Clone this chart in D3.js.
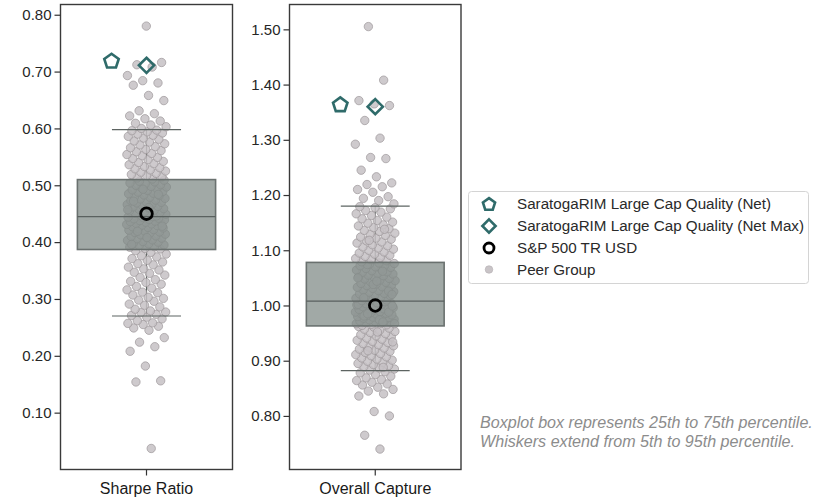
<!DOCTYPE html>
<html>
<head>
<meta charset="utf-8">
<script src="https://cdn.jsdelivr.net/npm/d3@7"></script>
<style>
  html, body { margin: 0; padding: 0; background: #ffffff; }
  svg { display: block; font-family: "Liberation Sans", Arial, sans-serif; }
</style>
</head>
<body>
<svg id="chart" width="817" height="499"></svg>
<script>
// ---------------- DATA ----------------
const categories = ["Sharpe Ratio", "Overall Capture"];
const yDomains = [[0.0, 0.818], [0.703, 1.545]];
const tickValues = [
  [0.10, 0.20, 0.30, 0.40, 0.50, 0.60, 0.70, 0.80],
  [0.80, 0.90, 1.00, 1.10, 1.20, 1.30, 1.40, 1.50]
];
// box stats: [p5, p25, median, p75, p95]
const boxStats = [
  [0.270, 0.387, 0.445, 0.510, 0.598],
  [0.882, 0.963, 1.008, 1.078, 1.180]
];
const fundNet = [0.718, 1.363];
const fundNetMax = [0.711, 1.360];
const benchmark = [0.450, 1.000];
const legendLabels = [
  "SaratogaRIM Large Cap Quality (Net)",
  "SaratogaRIM Large Cap Quality (Net Max)",
  "S&P 500 TR USD",
  "Peer Group"
];
const noteLines = [
  "Boxplot box represents 25th to 75th percentile.",
  "Whiskers extend from 5th to 95th percentile."
];
const peerSharpe = [
  0.037, 0.154, 0.156, 0.182, 0.208, 0.216, 0.224, 0.232, 0.245, 0.249, 0.252, 0.255, 0.257, 0.258, 0.262, 0.265, 0.268,
  0.271, 0.273, 0.276, 0.277, 0.279, 0.282, 0.286, 0.289, 0.291, 0.296, 0.298, 0.301, 0.303, 0.307, 0.311, 0.312, 0.316, 0.319, 0.322, 0.326,
  0.329, 0.331, 0.334, 0.338, 0.342, 0.345, 0.347, 0.351, 0.353, 0.356, 0.36, 0.362, 0.365, 0.368, 0.371, 0.374, 0.376, 0.379, 0.382, 0.385,
  0.388, 0.389, 0.391, 0.392, 0.394, 0.395, 0.397, 0.398, 0.4, 0.401, 0.403, 0.404, 0.406, 0.407, 0.409, 0.41, 0.411, 0.413, 0.414, 0.416,
  0.417, 0.418, 0.42, 0.421, 0.422, 0.424, 0.425, 0.426, 0.427, 0.429, 0.43, 0.431, 0.432, 0.433, 0.434, 0.435, 0.436, 0.437, 0.438, 0.439,
  0.44, 0.441, 0.442, 0.443, 0.444, 0.445, 0.419, 0.428, 0.408, 0.396,
  0.446, 0.447, 0.449, 0.45, 0.451, 0.452, 0.454, 0.455, 0.456, 0.458, 0.459, 0.46, 0.462, 0.463, 0.464, 0.466, 0.467, 0.469, 0.47, 0.471,
  0.473, 0.474, 0.476, 0.477, 0.479, 0.48, 0.482, 0.483, 0.485, 0.486, 0.488, 0.489, 0.491, 0.492, 0.494, 0.495, 0.497, 0.498, 0.5, 0.501,
  0.503, 0.504, 0.506, 0.507, 0.509, 0.461, 0.472, 0.484, 0.493, 0.457,
  0.511, 0.513, 0.515, 0.517, 0.519, 0.521, 0.523, 0.525, 0.527, 0.529, 0.531, 0.533, 0.536, 0.538, 0.54, 0.542, 0.545, 0.547, 0.549, 0.552,
  0.554, 0.556, 0.559, 0.561, 0.563, 0.566, 0.568, 0.571, 0.573, 0.576, 0.578, 0.581, 0.583, 0.586, 0.588, 0.59, 0.592, 0.594, 0.596, 0.597,
  0.6, 0.603, 0.606, 0.609, 0.613, 0.617, 0.622, 0.626, 0.631, 0.649, 0.658, 0.676, 0.68, 0.684, 0.693, 0.708, 0.712, 0.716, 0.78
];
const peerCapture = [
  0.74, 0.765, 0.8, 0.808, 0.836, 0.84, 0.845, 0.848, 0.852, 0.856, 0.858, 0.861, 0.864, 0.866, 0.869, 0.872, 0.875, 0.878, 0.88,
  0.883, 0.885, 0.887, 0.889, 0.891, 0.893, 0.895, 0.897, 0.899, 0.901, 0.903, 0.905, 0.907, 0.909, 0.911, 0.913, 0.915, 0.917, 0.919, 0.921,
  0.923, 0.925, 0.927, 0.929, 0.931, 0.933, 0.935, 0.937, 0.939, 0.941, 0.943, 0.945, 0.947, 0.949, 0.951, 0.953, 0.955, 0.957, 0.959, 0.961,
  0.962, 0.888, 0.918, 0.934, 0.952,
  0.964, 0.965, 0.966, 0.967, 0.968, 0.969, 0.97, 0.971, 0.972, 0.973, 0.974, 0.975, 0.976, 0.977, 0.978, 0.979, 0.98, 0.981, 0.982, 0.983,
  0.984, 0.985, 0.986, 0.987, 0.988, 0.989, 0.99, 0.991, 0.992, 0.993, 0.994, 0.995, 0.996, 0.997, 0.998, 0.999, 1.0, 1.001, 1.002, 1.003,
  1.004, 1.005, 1.006, 1.007, 1.008, 0.967, 0.974, 0.981, 0.988, 0.995, 1.002, 0.97, 0.985, 0.999, 1.005,
  1.009, 1.01, 1.012, 1.013, 1.015, 1.016, 1.018, 1.019, 1.021, 1.022, 1.024, 1.025, 1.027, 1.028, 1.03, 1.031, 1.033, 1.034, 1.036, 1.037,
  1.039, 1.04, 1.042, 1.043, 1.045, 1.046, 1.048, 1.049, 1.051, 1.052, 1.054, 1.055, 1.057, 1.058, 1.06, 1.061, 1.063, 1.064, 1.066, 1.067,
  1.069, 1.07, 1.072, 1.073, 1.075, 1.076, 1.077, 1.014, 1.026, 1.038, 1.05, 1.062, 1.074, 1.02, 1.044,
  1.079, 1.081, 1.083, 1.085, 1.087, 1.089, 1.091, 1.093, 1.095, 1.097, 1.1, 1.102, 1.104, 1.106, 1.108, 1.11, 1.113, 1.115, 1.117, 1.12,
  1.122, 1.124, 1.127, 1.129, 1.131, 1.134, 1.136, 1.139, 1.141, 1.144, 1.146, 1.149, 1.151, 1.154, 1.157, 1.16, 1.163, 1.166, 1.169, 1.172,
  1.175, 1.177, 1.179, 1.138, 1.118,
  1.184, 1.19, 1.194, 1.197, 1.205, 1.21, 1.215, 1.219, 1.222, 1.233, 1.245, 1.266, 1.268, 1.292, 1.303, 1.335, 1.362, 1.365, 1.371, 1.408, 1.505
];
const peerValues = [peerSharpe, peerCapture];

// ---------------- STYLE / LAYOUT ----------------
const teal = "#2f6b6a";
const panels = [
  { x0: 60.5, x1: 232.5 },
  { x0: 289.5, x1: 461 }
];
const plotTop = 4.5, plotBottom = 469.5;
const svg = d3.select("#chart");

function pentagonPath(r) {
  const pts = d3.range(5).map(k => {
    const a = -Math.PI / 2 + k * 2 * Math.PI / 5;
    return [r * Math.cos(a), r * Math.sin(a)];
  });
  return d3.line()(pts) + "Z";
}
function diamondPath(r) {
  return d3.line()([[0, -r], [r, 0], [0, r], [-r, 0]]) + "Z";
}

panels.forEach((p, pi) => {
  const y = d3.scaleLinear().domain(yDomains[pi]).range([plotBottom, plotTop]);
  const x = d3.scaleBand().domain([categories[pi]]).range([p.x0, p.x1]).padding(0.05);
  const cx = x(categories[pi]) + x.bandwidth() / 2;
  const boxW = x.bandwidth() * 0.888;
  const capW = boxW * 0.5;
  const g = svg.append("g");
  const s = boxStats[pi];

  // whiskers (outside box)
  g.append("line").attr("x1", cx).attr("x2", cx).attr("y1", y(s[4])).attr("y2", y(s[3]))
    .attr("stroke", "#5d6462").attr("stroke-width", 1.2);
  g.append("line").attr("x1", cx).attr("x2", cx).attr("y1", y(s[1])).attr("y2", y(s[0]))
    .attr("stroke", "#5d6462").attr("stroke-width", 1.2);

  // peer points
  const jitterHalf = 20;
  g.append("g").selectAll("circle").data(peerValues[pi]).join("circle")
    .attr("cx", (d, i) => cx + ((((i + 1) * 0.6180339887) % 1) - 0.5) * 2 * jitterHalf)
    .attr("cy", d => y(d))
    .attr("r", 4.2)
    .attr("fill", "#c6c1c4")
    .attr("fill-opacity", 0.85)
    .attr("stroke", "#9c979a")
    .attr("stroke-width", 0.7);

  // whisker caps
  [s[0], s[4]].forEach(v => {
    g.append("line").attr("x1", cx - capW / 2).attr("x2", cx + capW / 2)
      .attr("y1", y(v)).attr("y2", y(v))
      .attr("stroke", "#5d6462").attr("stroke-width", 1.2);
  });

  // box
  g.append("rect")
    .attr("x", cx - boxW / 2).attr("width", boxW)
    .attr("y", y(s[3])).attr("height", y(s[1]) - y(s[3]))
    .attr("fill", "#7d8884").attr("fill-opacity", 0.72)
    .attr("stroke", "#6a716f").attr("stroke-width", 1.6);
  g.append("line").attr("x1", cx - boxW / 2).attr("x2", cx + boxW / 2)
    .attr("y1", y(s[2])).attr("y2", y(s[2]))
    .attr("stroke", "#5a615f").attr("stroke-width", 1.2);

  // fund markers
  g.append("path").attr("d", pentagonPath(7.6))
    .attr("transform", `translate(${cx - 35},${y(fundNet[pi])})`)
    .attr("fill", "none").attr("stroke", teal).attr("stroke-width", 2.6).attr("stroke-linejoin", "miter");
  g.append("path").attr("d", diamondPath(7.6))
    .attr("transform", `translate(${cx},${y(fundNetMax[pi])})`)
    .attr("fill", "none").attr("stroke", teal).attr("stroke-width", 2.6);
  g.append("circle").attr("cx", cx).attr("cy", y(benchmark[pi])).attr("r", 5.8)
    .attr("fill", "none").attr("stroke", "#000").attr("stroke-width", 2.8);

  // frame
  g.append("rect").attr("x", p.x0).attr("y", plotTop).attr("width", p.x1 - p.x0).attr("height", plotBottom - plotTop)
    .attr("fill", "none").attr("stroke", "#3a3a3a").attr("stroke-width", 1.4);

  // y axis
  const ya = g.append("g").attr("transform", `translate(${p.x0},0)`)
    .call(d3.axisLeft(y).tickValues(tickValues[pi]).tickFormat(d3.format(".2f")).tickSize(6).tickPadding(3).tickSizeOuter(0));
  ya.select(".domain").remove();
  ya.selectAll("line").attr("stroke", "#333").attr("stroke-width", 1.2);
  ya.selectAll("text").attr("font-size", 15).attr("fill", "#262626")
    .attr("font-family", "Liberation Sans, Arial, sans-serif");

  // x axis
  const xa = g.append("g").attr("transform", `translate(0,${plotBottom})`)
    .call(d3.axisBottom(x).tickSize(6).tickPadding(7).tickSizeOuter(0));
  xa.select(".domain").remove();
  xa.selectAll("line").attr("stroke", "#333").attr("stroke-width", 1.2);
  xa.selectAll("text").attr("font-size", 16).attr("fill", "#1a1a1a")
    .attr("font-family", "Liberation Sans, Arial, sans-serif");
});

// ---------------- LEGEND ----------------
const lg = svg.append("g");
lg.append("rect").attr("x", 468.5).attr("y", 191.5).attr("width", 340).attr("height", 92).attr("rx", 3)
  .attr("fill", "#fff").attr("stroke", "#d4d4d4").attr("stroke-width", 1);
const rowY = [204, 226, 248, 269.5];
const mx = 489;
lg.append("path").attr("d", pentagonPath(6.4)).attr("transform", `translate(${mx},${rowY[0] + 0.5})`)
  .attr("fill", "none").attr("stroke", teal).attr("stroke-width", 2.6);
lg.append("path").attr("d", diamondPath(6.6)).attr("transform", `translate(${mx},${rowY[1]})`)
  .attr("fill", "none").attr("stroke", teal).attr("stroke-width", 2.6);
lg.append("circle").attr("cx", mx).attr("cy", rowY[2]).attr("r", 5)
  .attr("fill", "none").attr("stroke", "#000").attr("stroke-width", 2.8);
lg.append("circle").attr("cx", mx).attr("cy", rowY[3]).attr("r", 3.8)
  .attr("fill", "#c9c4c7").attr("stroke", "#b3aeb1").attr("stroke-width", 0.6);
legendLabels.forEach((t, i) => {
  lg.append("text").attr("x", 517).attr("y", rowY[i] + 5.3).text(t)
    .attr("font-size", 15.2).attr("fill", "#2a2a2a");
});

// ---------------- NOTE ----------------
noteLines.forEach((t, i) => {
  svg.append("text").attr("x", 480).attr("y", 428 + i * 18.5).text(t)
    .attr("font-size", 16.1).attr("font-style", "italic").attr("fill", "#8c8c8c");
});
</script>
</body>
</html>
